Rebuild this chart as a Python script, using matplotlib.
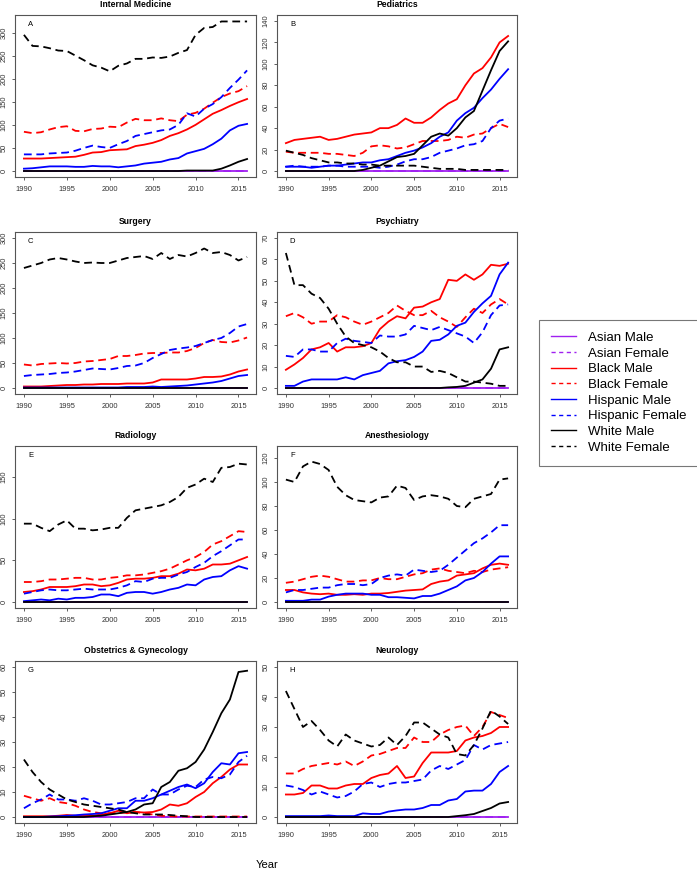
import matplotlib
matplotlib.use('Agg')
import matplotlib.pyplot as plt
from matplotlib.lines import Line2D

plt.rcParams['font.family'] = ['Liberation Sans', 'DejaVu Sans']

years = [1990, 1991, 1992, 1993, 1994, 1995, 1996, 1997, 1998, 1999, 2000, 2001, 2002, 2003,
         2004, 2005, 2006, 2007, 2008, 2009, 2010, 2011, 2012, 2013, 2014, 2015, 2016]

zeros = [0, 0, 0, 0, 0, 0, 0, 0, 0, 0, 0, 0, 0, 0, 0, 0, 0, 0, 0, 0, 0, 0, 0, 0, 0, 0, 0]

# Internal Medicine
im_black_m = [27, 27, 27, 28, 29, 30, 31, 35, 40, 41, 45, 46, 47, 54, 57, 61, 67, 76, 82, 90, 100, 112, 124, 132, 141, 149, 156]
im_black_f = [85, 82, 84, 90, 95, 97, 87, 86, 91, 92, 96, 95, 105, 113, 110, 110, 114, 110, 108, 122, 126, 135, 148, 160, 168, 173, 184]
im_hisp_m = [5, 6, 8, 10, 10, 10, 9, 9, 11, 10, 10, 8, 10, 12, 16, 18, 20, 25, 28, 38, 43, 48, 58, 70, 88, 98, 102]
im_hisp_f = [36, 36, 36, 38, 39, 40, 44, 50, 55, 52, 50, 58, 65, 76, 80, 84, 88, 90, 100, 125, 118, 135, 145, 160, 180, 198, 218]
im_white_m = [0, 0, 0, 0, 0, 0, 0, 0, 0, 0, 0, 0, 0, 0, 0, 0, 0, 0, 0, 1, 1, 1, 1, 5, 12, 20, 26]
im_white_f = [295, 271, 270, 266, 261, 260, 250, 240, 229, 224, 216, 228, 233, 243, 243, 246, 245, 248, 256, 262, 295, 310, 312, 324, 324, 324, 324]

# Pediatrics
pe_black_m = [26, 29, 30, 31, 32, 29, 30, 32, 34, 35, 36, 40, 40, 43, 49, 45, 45, 50, 57, 63, 67, 80, 91, 96, 106, 120, 126]
pe_black_f = [18, 17, 17, 17, 17, 16, 16, 15, 14, 17, 23, 24, 23, 21, 22, 25, 28, 28, 28, 29, 32, 31, 34, 35, 40, 44, 41]
pe_hisp_m = [4, 4, 4, 3, 4, 5, 5, 6, 7, 8, 8, 10, 11, 14, 17, 19, 22, 26, 32, 36, 47, 54, 59, 68, 76, 86, 95]
pe_hisp_f = [4, 5, 4, 4, 4, 5, 5, 4, 4, 4, 4, 3, 4, 6, 9, 11, 11, 13, 17, 19, 21, 24, 25, 28, 40, 47, 49]
pe_white_m = [0, 0, 0, 0, 0, 0, 0, 0, 0, 1, 3, 5, 9, 13, 14, 16, 24, 32, 35, 33, 40, 50, 56, 75, 94, 112, 121]
pe_white_f = [19, 17, 15, 12, 10, 8, 8, 7, 7, 6, 6, 5, 5, 5, 5, 5, 4, 3, 2, 2, 2, 1, 1, 1, 1, 1, 1]

# Surgery
su_black_m = [3, 3, 3, 4, 5, 6, 6, 7, 7, 8, 8, 8, 9, 9, 9, 11, 17, 17, 17, 17, 19, 22, 22, 23, 27, 33, 37]
su_black_f = [47, 45, 48, 49, 50, 49, 50, 53, 54, 56, 58, 64, 64, 66, 69, 70, 70, 71, 71, 74, 80, 90, 96, 92, 91, 95, 101]
su_hisp_m = [1, 1, 1, 1, 1, 1, 1, 1, 1, 1, 1, 1, 2, 2, 2, 3, 2, 3, 4, 5, 7, 9, 11, 14, 19, 24, 26]
su_hisp_f = [24, 26, 27, 28, 30, 31, 33, 36, 39, 38, 37, 40, 44, 45, 50, 60, 68, 76, 79, 81, 84, 90, 96, 100, 110, 123, 128]
su_white_f = [240, 245, 250, 257, 260, 257, 253, 250, 251, 250, 250, 255, 260, 262, 264, 258, 270, 258, 266, 263, 270, 279, 270, 272, 266, 255, 262]

# Psychiatry
ps_black_m = [8.5, 11, 14, 18, 19, 21, 17, 19, 19, 19.5, 21, 27.5, 31, 33.5, 32.5, 37.5, 38, 40, 41.5, 50.5, 50, 53, 50.5, 53, 57.5, 57, 58]
ps_black_f = [33.5, 35, 33, 30, 31, 31, 34, 33, 31, 29.5, 31, 33, 35, 38.5, 36, 34, 34, 36, 33, 31, 28.5, 33, 37, 35, 39, 41.5, 39]
ps_hisp_m = [1, 1, 3, 4, 4, 4, 4, 5, 4, 6, 7, 8, 11.5, 12.5, 13, 14.5, 17, 22, 22.5, 25, 29, 30.5, 35.5, 39.5, 43, 53, 58.5]
ps_hisp_f = [15, 14.5, 18, 18, 17, 17, 21, 23, 22, 21.5, 21, 24.5, 24, 24, 25, 29, 28, 27, 28.5, 27, 25.5, 24, 21, 26, 34, 38.5, 39]
ps_white_m = [0, 0, 0, 0, 0, 0, 0, 0, 0, 0, 0, 0, 0, 0, 0, 0, 0, 0, 0, 0.3, 0.5, 1, 2.5, 4, 9, 18, 19]
ps_white_f = [63, 48, 48, 44, 42, 37, 30, 24, 21, 20, 19, 17, 14, 12, 12, 10, 10, 7.5, 8, 7, 5, 3, 3, 2.5, 2, 1, 1]

# Radiology
ra_black_m = [12, 13, 15, 18, 18, 18, 19, 21, 21, 19, 20, 23, 27, 28, 28, 29, 31, 31, 34, 39, 38, 40, 45, 45, 46, 50, 54]
ra_black_f = [24, 24, 25, 27, 27, 28, 29, 29, 27, 27, 29, 30, 32, 32, 33, 35, 37, 40, 45, 50, 54, 60, 69, 73, 79, 85, 84]
ra_hisp_m = [1, 2, 3, 2, 4, 3, 5, 5, 6, 9, 9, 7, 11, 12, 12, 10, 12, 15, 17, 21, 20, 27, 30, 31, 38, 43, 40]
ra_hisp_f = [10, 12, 14, 15, 14, 14, 15, 16, 15, 15, 15, 17, 20, 25, 24, 28, 29, 29, 33, 36, 42, 47, 55, 61, 68, 75, 75]
ra_white_f = [94, 94, 89, 85, 93, 98, 88, 88, 86, 87, 89, 89, 101, 110, 112, 114, 116, 120, 126, 137, 141, 148, 144, 161, 162, 166, 165]

# Anesthesiology
an_black_m = [10, 10, 8, 7, 6.5, 7, 6, 6, 6.5, 6, 7, 7, 7.5, 8.5, 9.5, 10, 10.5, 15, 17, 18, 22, 23, 24, 28, 31, 32, 31]
an_black_f = [16, 17, 19, 21, 22, 21, 19, 17, 17, 18, 18, 20, 19, 19, 21, 23, 24, 27, 28, 26, 25, 24, 26, 25, 27, 28, 29]
an_hisp_m = [1, 1, 1, 2, 2, 4.5, 6, 7, 7, 7, 6, 6, 4, 4, 3.5, 3, 5, 5, 7, 10, 13, 18, 20, 25, 32, 38, 38]
an_hisp_f = [8, 10, 10, 11, 12, 12, 14, 15, 15, 14, 15, 20, 22, 23, 22, 27, 26, 25, 26, 31, 37, 43, 49, 53, 58, 64, 64]
an_white_f = [102, 100, 113, 117, 115, 110, 96, 89, 85, 84, 83, 87, 88, 97, 95, 85, 88, 89, 88, 86, 80, 79, 86, 88, 90, 102, 103]

# Obstetrics & Gynecology
ob_black_m = [0.3, 0.3, 0.3, 0.3, 0.5, 0.8, 0.5, 0.5, 0.5, 1, 1.5, 2.5, 1.5, 2, 1.8, 2, 3, 5, 4.5, 5.5, 8, 10, 13.5, 16, 19, 21, 21]
ob_black_f = [8.5, 7.5, 6.5, 7.5, 6, 5.5, 4.5, 3, 2, 1.5, 1.5, 1.5, 2, 2, 1.5, 1, 0.5, 0.3, 0.2, 0.2, 0.2, 0.2, 0.2, 0.2, 0.2, 0.2, 0.2]
ob_hisp_m = [0, 0, 0, 0.2, 0.3, 0.5, 0.7, 1, 1.2, 1.5, 2.5, 3.5, 3.5, 6.5, 6.5, 7.5, 9, 10.5, 12, 13, 11.5, 13.5, 18, 21.5, 21, 25.5, 26]
ob_hisp_f = [3.5, 5.5, 7, 9, 7, 7, 6.5, 7.5, 6.5, 5, 5, 5.5, 6, 7.5, 7.5, 11, 9, 9, 11, 12.5, 12, 15, 16, 15.5, 17, 22, 24.5]
ob_white_m = [0, 0, 0, 0, 0, 0, 0, 0, 0.3, 0.5, 1, 1.5, 2, 3, 5, 5.5, 12, 14, 18.5, 19.5, 22, 27, 34, 41.5, 47, 58, 58.5]
ob_white_f = [23, 18, 14, 11, 9, 7, 6, 5, 4.5, 4, 3.5, 3, 2, 1.5, 1, 1, 1, 0.8, 0.5, 0.3, 0, 0, 0, 0, 0, 0, 0]

# Neurology
ne_black_m = [7.5, 7.5, 8, 10.5, 10.5, 9.5, 9.5, 10.5, 11, 11, 13, 14, 14.5, 17, 13, 13.5, 18, 21.5, 21.5, 21.5, 22, 25.5, 26.5, 27, 28, 30, 30]
ne_black_f = [14.5, 14.5, 16, 17, 17.5, 18, 17.5, 18.5, 17, 18.5, 20.5, 21, 22, 23, 23, 26.5, 25, 25, 27.5, 29, 30, 30.5, 27, 30, 35, 34, 33]
ne_hisp_m = [0.3, 0.3, 0.3, 0.3, 0.3, 0.5, 0.3, 0.3, 0.3, 1.2, 1, 1, 1.8, 2.2, 2.5, 2.5, 3, 4, 4, 5.5, 6, 8.5, 8.8, 8.8, 11, 15, 17]
ne_hisp_f = [10.5, 10, 9, 7.5, 8.5, 7.5, 6.5, 7, 8.5, 11, 11.5, 10, 11, 11.5, 11.5, 12, 12.5, 15.5, 17, 16, 17.5, 19, 24, 22.5, 24, 24.5, 25]
ne_white_m = [0, 0, 0, 0, 0, 0, 0, 0, 0, 0, 0, 0, 0, 0, 0, 0, 0, 0, 0, 0, 0.3, 0.6, 1, 2, 3, 4.5, 5]
ne_white_f = [42, 36, 30, 32, 29, 25.5, 23.5, 27.5, 25.5, 24.5, 23.5, 24, 26.5, 24, 27, 31.5, 31.5, 29.5, 27.5, 26.5, 21, 20.5, 24, 29.5, 35.5, 33.5, 31]

titles = ['Internal Medicine', 'Pediatrics', 'Surgery', 'Psychiatry',
          'Radiology', 'Anesthesiology', 'Obstetrics & Gynecology', 'Neurology']
letters = ['A', 'B', 'C', 'D', 'E', 'F', 'G', 'H']
ymax = [325, 140, 300, 70, 180, 125, 60, 50]
ystep = [50, 20, 50, 10, 50, 20, 10, 10]

series_names = ['Asian Male', 'Asian Female', 'Black Male', 'Black Female',
                'Hispanic Male', 'Hispanic Female', 'White Male', 'White Female']
series_cols = ['#A020F0', '#A020F0', '#FF0000', '#FF0000', '#0000FF', '#0000FF', 'black', 'black']
series_dash = [False, True, False, True, False, True, False, True]

panels = [
    [zeros, zeros, im_black_m, im_black_f, im_hisp_m, im_hisp_f, im_white_m, im_white_f],
    [zeros, zeros, pe_black_m, pe_black_f, pe_hisp_m, pe_hisp_f, pe_white_m, pe_white_f],
    [zeros, zeros, su_black_m, su_black_f, su_hisp_m, su_hisp_f, zeros, su_white_f],
    [zeros, zeros, ps_black_m, ps_black_f, ps_hisp_m, ps_hisp_f, ps_white_m, ps_white_f],
    [zeros, zeros, ra_black_m, ra_black_f, ra_hisp_m, ra_hisp_f, zeros, ra_white_f],
    [zeros, zeros, an_black_m, an_black_f, an_hisp_m, an_hisp_f, zeros, an_white_f],
    [zeros, zeros, ob_black_m, ob_black_f, ob_hisp_m, ob_hisp_f, ob_white_m, ob_white_f],
    [zeros, zeros, ne_black_m, ne_black_f, ne_hisp_m, ne_hisp_f, ne_white_m, ne_white_f],
]

W, H = 697, 874
fig = plt.figure(figsize=(W / 100, H / 100), dpi=100)

col_left = [15, 277]
col_w = [241, 240]
row_top = [15, 232, 446, 661]
row_h = 162

for i in range(8):
    r, c = i // 2, i % 2
    ax = fig.add_axes([col_left[c] / W, 1 - (row_top[r] + row_h) / H, col_w[c] / W, row_h / H])
    for vals, col, dash in zip(panels[i], series_cols, series_dash):
        if dash:
            ax.plot(years, vals, color=col, lw=1.3, dashes=(4.3, 2.6))
        else:
            ax.plot(years, vals, color=col, lw=1.3)
    m = ymax[i]
    ax.set_ylim(-0.04 * m, 1.04 * m)
    ax.set_xlim(1990 - 0.04 * 26, 2016 + 0.04 * 26)
    ax.set_xticks([1990, 1995, 2000, 2005, 2010, 2015])
    ax.set_yticks(list(range(0, m + 1, ystep[i])))
    ax.tick_params(labelsize=5.4, length=2.5, width=0.6, color='#444444', labelcolor='#333333')
    ax.tick_params(axis='x', pad=4)
    ax.tick_params(axis='y', pad=3)
    for lab in ax.get_yticklabels():
        lab.set_rotation(90)
        lab.set_va('center')
    for sp in ax.spines.values():
        sp.set_color('#555555')
        sp.set_linewidth(0.8)
    ax.set_title(titles[i], fontsize=6.2, fontweight='bold', pad=6)
    ax.text(0.065, 0.94, letters[i], transform=ax.transAxes, fontsize=5.5, va='center', ha='center')

handles = []
for col, dash in zip(series_cols, series_dash):
    if dash:
        handles.append(Line2D([], [], color=col, lw=1.0, dashes=(3, 2.5)))
    else:
        handles.append(Line2D([], [], color=col, lw=1.0))
leg = fig.legend(handles, series_names, loc='upper left', bbox_to_anchor=(539 / W, 1 - 320 / H),
                 fontsize=9.5, frameon=True, fancybox=False, borderaxespad=0, handlelength=1.9,
                 handletextpad=0.9, labelspacing=0.26, borderpad=0.9)
leg.get_frame().set_edgecolor('#555555')
leg.get_frame().set_linewidth(0.8)

fig.text(267 / W, 1 - 865 / H, 'Year', fontsize=8, ha='center', va='center')

fig.savefig('out.png', dpi=100)
